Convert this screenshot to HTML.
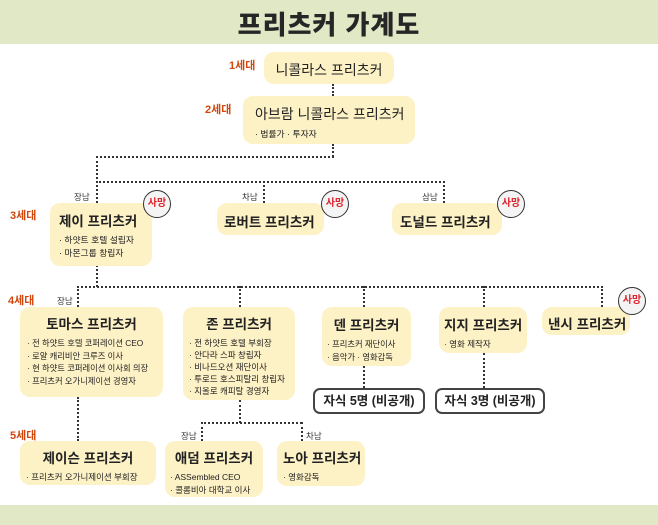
<!DOCTYPE html>
<html><head><meta charset="utf-8"><style>
body{margin:0;width:658px;height:525px;position:relative;background:#fff;overflow:hidden;font-family:"Liberation Sans","Noto Sans CJK KR",sans-serif;color:#222}
.top{position:absolute;left:0;top:0;width:658px;height:44px;background:#e1e8c5}
.bot{position:absolute;left:0;top:505px;width:658px;height:20px;background:#e1e8c5}
.title{position:absolute;left:0;top:5px;width:658px;text-align:center;font-size:26px;font-weight:900;color:#262626;letter-spacing:1px}
.b{position:absolute;background:#fdf1c6;border-radius:10px;box-sizing:border-box}
.t{font-size:13.5px;font-weight:bold;white-space:nowrap}
.s{font-size:8.8px;line-height:12.5px;white-space:nowrap}
.g{position:absolute;color:#d0480e;font-weight:bold;font-size:11px}
.l{position:absolute;font-size:8.5px;color:#333}
.d{position:absolute;border-color:#333;border-style:dotted;border-width:0}
.h{border-top-width:2px;height:0}
.v{border-left-width:2px;width:0}
.c{position:absolute;width:26px;height:26px;border:1.5px solid #333;border-radius:50%;background:#f4f4f4;color:#e0242e;font-size:10px;font-weight:bold;text-align:center;line-height:26px}
.k{position:absolute;border:2px solid #444;border-radius:7px;background:#fff;font-size:12.5px;font-weight:bold;text-align:center;line-height:22px;box-sizing:border-box;height:26px}
</style></head><body>
<div class="top"></div><div class="bot"></div>
<div class="title">프리츠커 가계도</div>

<div class="d v" style="left:332px;top:84px;height:12px"></div>
<div class="d v" style="left:332px;top:144px;height:13px"></div>
<div class="d h" style="left:96px;top:156px;width:238px"></div>
<div class="d v" style="left:96px;top:156px;height:47px"></div>
<div class="d h" style="left:96px;top:181px;width:349px"></div>
<div class="d v" style="left:263px;top:181px;height:22px"></div>
<div class="d v" style="left:443px;top:181px;height:22px"></div>
<div class="d v" style="left:96px;top:265px;height:22px"></div>
<div class="d h" style="left:77px;top:286px;width:526px"></div>
<div class="d v" style="left:77px;top:286px;height:21px"></div>
<div class="d v" style="left:239px;top:286px;height:21px"></div>
<div class="d v" style="left:363px;top:286px;height:21px"></div>
<div class="d v" style="left:483px;top:286px;height:21px"></div>
<div class="d v" style="left:601px;top:286px;height:21px"></div>
<div class="d v" style="left:363px;top:366px;height:22px"></div>
<div class="d v" style="left:483px;top:353px;height:35px"></div>
<div class="d v" style="left:77px;top:397px;height:44px"></div>
<div class="d v" style="left:239px;top:400px;height:23px"></div>
<div class="d h" style="left:201px;top:422px;width:101px"></div>
<div class="d v" style="left:201px;top:422px;height:19px"></div>
<div class="d v" style="left:301px;top:422px;height:19px"></div>

<div class="g" style="left:229px;top:57px">1세대</div>
<div class="g" style="left:205px;top:101px">2세대</div>
<div class="g" style="left:10px;top:207px">3세대</div>
<div class="g" style="left:8px;top:292px">4세대</div>
<div class="g" style="left:10px;top:427px">5세대</div>

<div class="l" style="left:74px;top:191px">장남</div>
<div class="l" style="left:242px;top:191px">차남</div>
<div class="l" style="left:422px;top:191px">삼남</div>
<div class="l" style="left:57px;top:295px">장남</div>
<div class="l" style="left:181px;top:430px">장남</div>
<div class="l" style="left:306px;top:430px">차남</div>

<div class="b" style="left:264px;top:52px;width:130px;height:32px;text-align:center;padding-top:8px"><div class="t" style="font-weight:normal;font-size:14px">니콜라스 프리츠커</div></div>
<div class="b" style="left:243px;top:96px;width:172px;height:48px;padding:8px 0 0 12px"><div class="t" style="font-weight:normal;font-size:14px">아브람 니콜라스 프리츠커</div><div class="s" style="margin-top:4px">· 법률가 · 투자자</div></div>

<div class="b" style="left:50px;top:203px;width:102px;height:63px;padding:7px 0 0 9px"><div class="t">제이 프리츠커</div><div class="s" style="margin-top:4px">· 하얏트 호텔 설립자<br>· 마몬그룹 창립자</div></div>
<div class="b" style="left:217px;top:203px;width:107px;height:32px;padding:8px 0 0 7px"><div class="t">로버트 프리츠커</div></div>
<div class="b" style="left:392px;top:203px;width:110px;height:32px;padding:8px 0 0 8px"><div class="t">도널드 프리츠커</div></div>
<div class="c" style="left:143px;top:190px">사망</div>
<div class="c" style="left:321px;top:190px">사망</div>
<div class="c" style="left:497px;top:190px">사망</div>

<div class="b" style="left:20px;top:307px;width:143px;height:90px;padding:6px 0 0 7px"><div class="t" style="text-align:center;margin-right:7px">토마스 프리츠커</div><div class="s" style="margin-top:4px;font-size:8.3px">· 전 하얏트 호텔 코퍼레이션 CEO<br>· 로얄 캐리비안 크루즈 이사<br>· 현 하얏트 코퍼레이션 이사회 의장<br>· 프리츠커 오가니제이션 경영자</div></div>
<div class="b" style="left:183px;top:307px;width:112px;height:93px;padding:6px 0 0 6px"><div class="t" style="text-align:center;margin-right:6px">존 프리츠커</div><div class="s" style="margin-top:4px;font-size:8.5px;line-height:12px">· 전 하얏트 호텔 부회장<br>· 안다라 스파 창립자<br>· 비나드오션 재단이사<br>· 투로드 호스피탈리 창립자<br>· 지올로 캐피탈 경영자</div></div>
<div class="b" style="left:322px;top:307px;width:89px;height:59px;padding:7px 0 0 5px"><div class="t" style="text-align:center;margin-right:5px">덴 프리츠커</div><div class="s" style="margin-top:4px;font-size:8.3px">· 프리츠커 재단이사<br>· 음악가 · 영화감독</div></div>
<div class="b" style="left:439px;top:307px;width:88px;height:46px;padding:7px 0 0 5px"><div class="t" style="text-align:center;margin-right:5px">지지 프리츠커</div><div class="s" style="margin-top:4px;font-size:8.5px">· 영화 제작자</div></div>
<div class="b" style="left:542px;top:307px;width:88px;height:28px;padding:6px 0 0 6px"><div class="t">낸시 프리츠커</div></div>
<div class="c" style="left:618px;top:287px">사망</div>

<div class="k" style="left:313px;top:388px;width:112px">자식 5명 (비공개)</div>
<div class="k" style="left:435px;top:388px;width:110px">자식 3명 (비공개)</div>

<div class="b" style="left:20px;top:441px;width:136px;height:44px;padding:6px 0 0 6px"><div class="t" style="text-align:center;margin-right:6px">제이슨 프리츠커</div><div class="s" style="margin-top:4px;font-size:8.5px">· 프리츠커 오가니제이션 부회장</div></div>
<div class="b" style="left:165px;top:441px;width:98px;height:56px;padding:6px 0 0 5px"><div class="t" style="text-align:center;margin-right:5px">애덤 프리츠커</div><div class="s" style="margin-top:4px;font-size:8.5px">· ASSembled CEO<br>· 콜롬비아 대학교 이사</div></div>
<div class="b" style="left:277px;top:441px;width:88px;height:45px;padding:6px 0 0 6px"><div class="t" style="text-align:center;margin-right:6px">노아 프리츠커</div><div class="s" style="margin-top:4px;font-size:8.5px">· 영화감독</div></div>
</body></html>
